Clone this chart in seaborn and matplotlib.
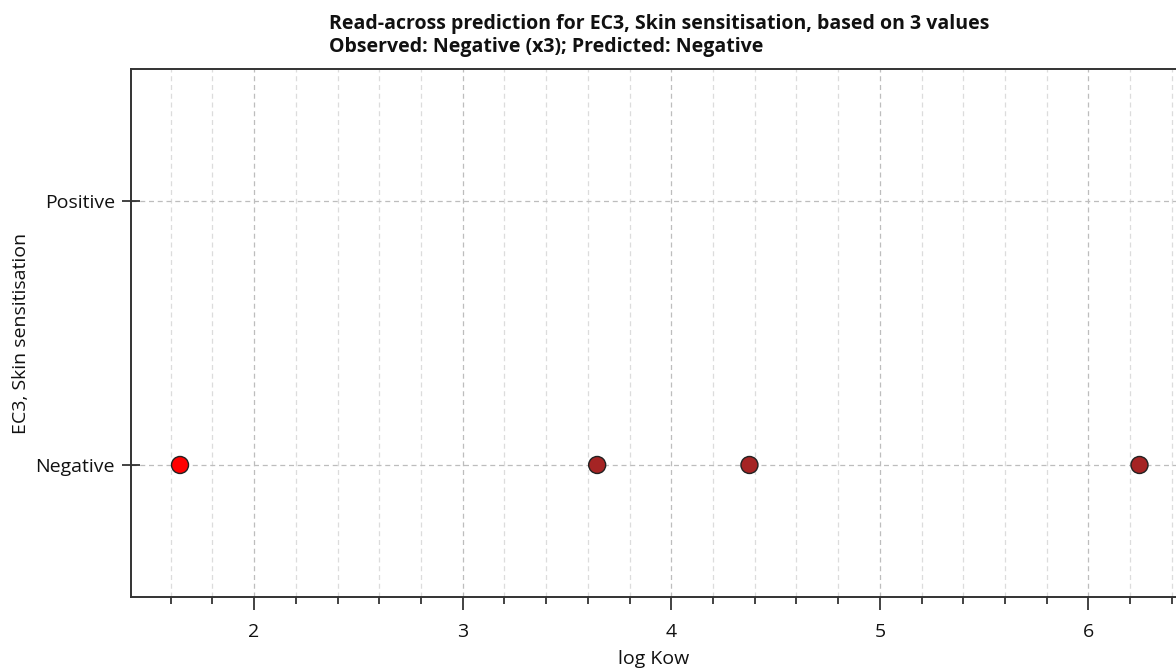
'''
Read-across plot of EC3 skin sensitisation outcome vs log Kow
'''
import matplotlib
matplotlib.use('Agg')

import seaborn           as sns
import matplotlib.pyplot as plt
import pandas            as pnd
from matplotlib.ticker import MultipleLocator

# ----------------------
log_kow   = [1.645, 3.645, 4.375, 6.245]
outcome   = ['Negative', 'Negative', 'Negative', 'Negative']
kind      = ['Target', 'Analogue', 'Analogue', 'Analogue']
y_labels  = ['Negative', 'Positive']
palette   = {'Target' : '#FF0000', 'Analogue' : '#A52424'}
title     = ('Read-across prediction for EC3, Skin sensitisation, based on 3 values\n'
             'Observed: Negative (x3); Predicted: Negative')
# ----------------------
def main():
    sns.set_style('white')
    plt.rcParams['font.family'] = ['Open Sans', 'DejaVu Sans']

    df = pnd.DataFrame({'logkow' : log_kow, 'outcome' : outcome, 'kind' : kind})
    df['code'] = df['outcome'].map({lab : i for i, lab in enumerate(y_labels)})

    fig = plt.figure(figsize=(11.76, 6.70), dpi=100)
    ax  = fig.add_axes([0.1114, 0.109, 0.8886, 0.788])

    ax.set_xlim(1.41, 6.42)
    ax.set_ylim(-0.5, 1.5)

    ax.xaxis.set_major_locator(MultipleLocator(1))
    ax.xaxis.set_minor_locator(MultipleLocator(0.2))
    ax.set_yticks(range(len(y_labels)))
    ax.set_yticklabels(y_labels)

    ax.grid(which='minor', axis='x', color='#DCDCDC', linestyle=(0, (4, 3)), linewidth=0.9)
    ax.grid(which='major', axis='x', color='#BDBDBD', linestyle=(0, (4, 3)), linewidth=0.9)
    ax.grid(which='major', axis='y', color='#BDBDBD', linestyle=(0, (4, 3)), linewidth=0.9)
    ax.set_axisbelow(True)

    sns.scatterplot(data=df, x='logkow', y='code', hue='kind', palette=palette,
                    s=150, edgecolor='#222222', linewidth=1.0, legend=False,
                    zorder=3, clip_on=False, ax=ax)

    for side in ['top', 'left', 'bottom']:
        ax.spines[side].set_color('#333333')
        ax.spines[side].set_linewidth(1.4)
    ax.spines['right'].set_visible(False)

    ax.tick_params(axis='x', which='major', direction='out', length=9.5, width=1.2,
                   color='#222222', labelsize=14, labelcolor='#111111', pad=9, bottom=True)
    ax.tick_params(axis='x', which='minor', direction='out', length=5, width=1.2,
                   color='#222222', bottom=True)
    ax.tick_params(axis='y', which='major', direction='inout', length=13, width=1.2,
                   color='#222222', labelsize=14, labelcolor='#111111', pad=5, left=True)

    ax.set_xlabel('log Kow', fontsize=14, color='#111111', labelpad=7)
    ax.set_ylabel('EC3, Skin sensitisation', fontsize=14, color='#111111', labelpad=4)

    fig.text(0.2797, 0.915, title, fontsize=14, fontweight='bold', ha='left', va='bottom',
             linespacing=1.2, color='#111111')

    fig.savefig('out.png', dpi=100)
    plt.close(fig)
# ----------------------
if __name__ == '__main__':
    main()
